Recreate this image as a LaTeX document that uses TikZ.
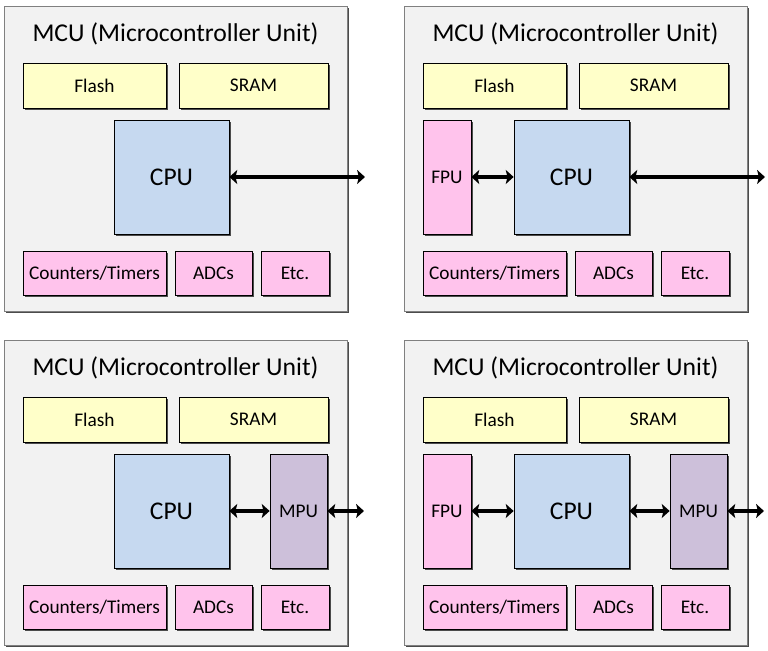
\documentclass[tikz,border=0pt]{standalone}
\usepackage{fontspec}
\setmainfont{Carlito}
\usetikzlibrary{arrows.meta,shadows}
\definecolor{mcu}{HTML}{F2F2F2}
\definecolor{mem}{HTML}{FFFFC9}
\definecolor{cpu}{HTML}{C6D9F0}
\definecolor{periph}{HTML}{FFC3EC}
\definecolor{mpu}{HTML}{CDC0DA}
\tikzset{box/.style={black,draw=black,rectangle,inner sep=0pt,
  drop shadow={shadow xshift=0.9pt,shadow yshift=-0.9pt,fill=black!70,opacity=1}}}
\tikzset{mcu/.style={box,draw=gray,fill=mcu,minimum width=343*0.02cm,minimum height=305*0.02cm}}
\tikzset{mem/.style={box,fill=mem,minimum height=45*0.02cm,font=\fontsize{11}{13}\selectfont}}
\tikzset{cpu/.style={box,fill=cpu,minimum width=115*0.02cm,minimum height=114*0.02cm,font=\fontsize{14.5}{17}\selectfont}}
\tikzset{periph/.style={box,fill=periph,minimum height=44*0.02cm,font=\fontsize{11}{13}\selectfont}}
\tikzset{fpu/.style={box,fill=periph,minimum width=48*0.02cm,minimum height=114*0.02cm,font=\fontsize{11}{13}\selectfont}}
\tikzset{mpu/.style={box,fill=mpu,minimum width=57*0.02cm,minimum height=114*0.02cm,font=\fontsize{11}{13}\selectfont}}
\tikzset{bus/.style={draw=black,line width=2pt,{Stealth[length=4.5pt,width=8pt,inset=1pt]}-{Stealth[length=4.5pt,width=8pt,inset=1pt]}}}
% parts that every panel has
\newcommand{\mcubase}{%
  \node[mcu] (mcu) at (171.5,152.5) {};
  \node[font=\fontsize{14.6}{18}\selectfont] (title) at (171.5,28) {MCU (Microcontroller Unit)};
  \node[mem,minimum width=143*0.02cm] (flash) at (90.5,79.5) {Flash};
  \node[mem,minimum width=149*0.02cm] (sram) at (249.5,79.5) {SRAM};
  \node[cpu] (cpu) at (167.5,171) {CPU};
  \node[periph,minimum width=143*0.02cm] (count) at (90.5,267) {Counters/Timers};
  \node[periph,minimum width=77*0.02cm] (adc) at (209.5,267) {ADCs};
  \node[periph,minimum width=68*0.02cm] (etc) at (291,267) {Etc.};
}
\begin{document}
\begin{tikzpicture}[x=0.02cm,y=-0.02cm]
  \useasboundingbox (0,0) rectangle (768,651);

  % top left: CPU only
  \begin{scope}[shift={(4,6)},name prefix=a-]
    \mcubase
    \coordinate (out) at (361,171);
    \draw[bus] (cpu) -- (out);
  \end{scope}

  % top right: with FPU
  \begin{scope}[shift={(404,6)},name prefix=b-]
    \mcubase
    \node[fpu] (fpu) at (43,171) {FPU};
    \coordinate (out) at (361,171);
    \draw[bus] (fpu) -- (cpu);
    \draw[bus] (cpu) -- (out);
  \end{scope}

  % bottom left: with MPU
  \begin{scope}[shift={(4,340)},name prefix=c-]
    \mcubase
    \node[mpu] (mpu) at (294.5,171) {MPU};
    \coordinate (out) at (360,171);
    \draw[bus] (cpu) -- (mpu);
    \draw[bus] (mpu) -- (out);
  \end{scope}

  % bottom right: with FPU and MPU
  \begin{scope}[shift={(404,340)},name prefix=d-]
    \mcubase
    \node[fpu] (fpu) at (43,171) {FPU};
    \node[mpu] (mpu) at (294.5,171) {MPU};
    \coordinate (out) at (360,171);
    \draw[bus] (fpu) -- (cpu);
    \draw[bus] (cpu) -- (mpu);
    \draw[bus] (mpu) -- (out);
  \end{scope}
\end{tikzpicture}
\end{document}
